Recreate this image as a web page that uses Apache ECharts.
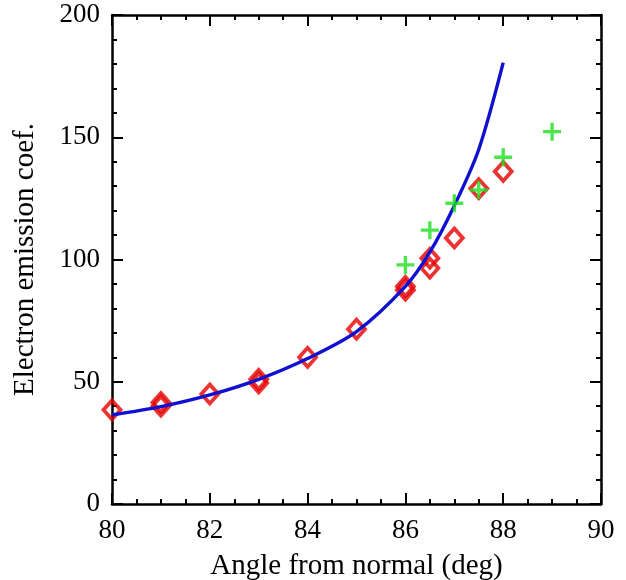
<!DOCTYPE html>
<html>
<head>
<meta charset="utf-8">
<script src="https://cdn.jsdelivr.net/npm/echarts@6/dist/echarts.min.js"></script>
<style>html,body{margin:0;padding:0;background:#fff;}#chart{width:626px;height:580px;}</style>
</head>
<body>
<div id="chart"></div>
<script>
// Data
var diamondX = [80, 81, 81, 82, 83, 83, 84, 85, 86, 86, 86.5, 86.5, 87, 87.5, 88];
var diamondY = [38.5, 41.5, 40, 45, 51, 49.5, 60, 71.5, 89, 87.5, 100.5, 96.5, 108.8, 129, 136];
var plusX = [86, 86.5, 87, 87.5, 88, 89];
var plusY = [97.8, 112, 123, 128.4, 141.8, 152.3];
var lineX = [80, 81, 82, 83, 84, 85, 86, 86.5, 87, 87.5, 88];
var lineY = [36.4, 39.8, 44.6, 51, 59.5, 70.5, 89, 103, 122, 145, 180.5];
var xTickLabels = ['80', '82', '84', '86', '88', '90'];
var yTickLabels = ['0', '50', '100', '150', '200'];

function zip(a, b) { return a.map(function (v, i) { return [v, b[i]]; }); }

var font = 'Liberation Serif';
var chart = echarts.init(document.getElementById('chart'), null, {renderer: 'canvas'});
function axisLine() { return {show: true, onZero: false, lineStyle: {color: '#000', width: 2.5}}; }
function tick() { return {show: true, inside: true, length: 11, lineStyle: {color: '#000', width: 2}}; }
function minor(n) { return {show: true, splitNumber: n, length: 5, lineStyle: {color: '#000', width: 2}}; }

chart.setOption({
  animation: false,
  backgroundColor: '#fff',
  grid: {left: 112, top: 15, width: 489, height: 489, containLabel: false, outerBoundsMode: 'none'},
  xAxis: [{
    type: 'value', min: 80, max: 90, interval: 2, position: 'bottom',
    name: 'Angle from normal (deg)', nameLocation: 'middle', nameGap: 48,
    nameTextStyle: {fontFamily: font, fontSize: 29, color: '#000'},
    axisLine: axisLine(), axisTick: tick(), minorTick: minor(4),
    splitLine: {show: false},
    axisLabel: {fontFamily: font, fontSize: 27, color: '#000', margin: 13,
      formatter: function (v) { var s = String(Math.round(v)); return xTickLabels.indexOf(s) >= 0 ? s : ''; }}
  }, {
    type: 'value', min: 80, max: 90, interval: 2, position: 'top',
    axisLine: axisLine(), axisTick: tick(), minorTick: minor(4),
    splitLine: {show: false}, axisLabel: {show: false}
  }],
  yAxis: [{
    type: 'value', min: 0, max: 200, interval: 50, position: 'left',
    name: 'Electron emission coef.', nameLocation: 'middle', nameGap: 72,
    nameTextStyle: {fontFamily: font, fontSize: 29, color: '#000'},
    axisLine: axisLine(), axisTick: tick(), minorTick: minor(5),
    splitLine: {show: false},
    axisLabel: {fontFamily: font, fontSize: 27, color: '#000', margin: 12,
      formatter: function (v) { var s = String(Math.round(v)); return yTickLabels.indexOf(s) >= 0 ? s : ''; }}
  }, {
    type: 'value', min: 0, max: 200, interval: 50, position: 'right',
    axisLine: axisLine(), axisTick: tick(), minorTick: minor(5),
    splitLine: {show: false}, axisLabel: {show: false}
  }],
  series: [{
    type: 'scatter', data: zip(diamondX, diamondY), symbol: 'diamond', symbolSize: [17, 19],
    itemStyle: {color: 'rgba(255,255,255,0)', borderColor: '#e60000', borderWidth: 3.8},
    z: 2
  }, {
    type: 'line', data: zip(lineX, lineY), smooth: 0.3, showSymbol: false, symbol: 'none',
    lineStyle: {color: '#1010d0', width: 3.4}, z: 3
  }, {
    type: 'scatter', data: zip(plusX, plusY),
    symbol: 'path://M0,6.5H16V9.5H0Z M6.5,0H9.5V16H6.5Z', symbolSize: 18,
    itemStyle: {color: '#1ee01e'}, z: 4
  }]
});
</script>
</body>
</html>
